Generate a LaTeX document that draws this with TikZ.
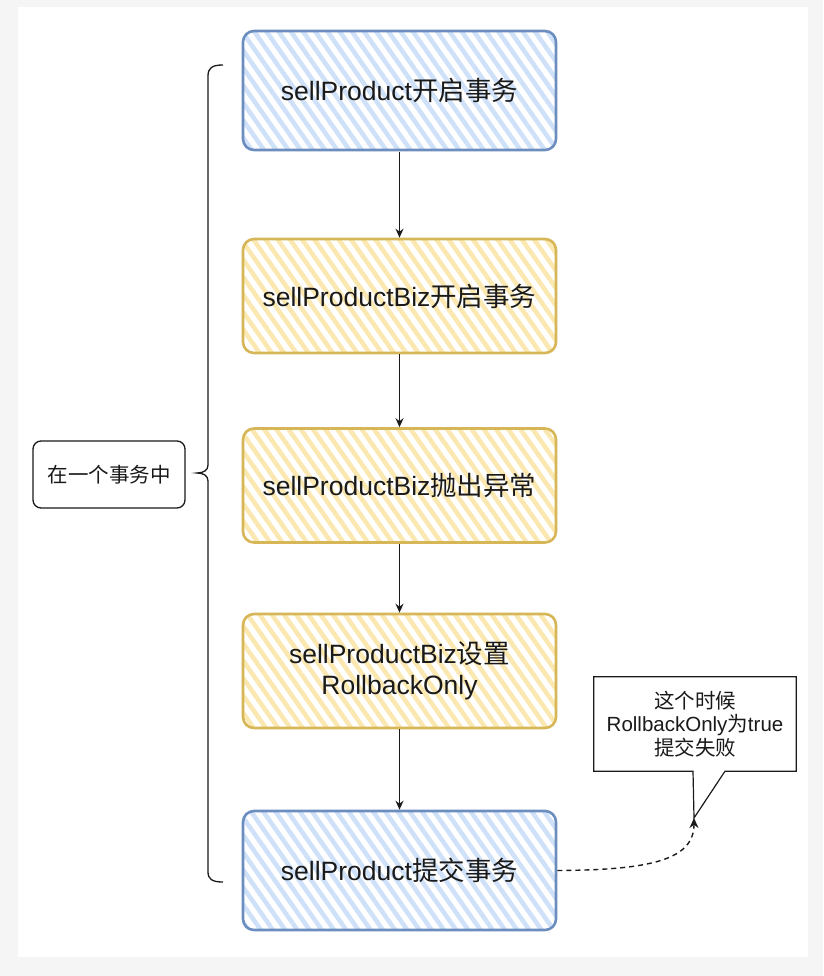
\documentclass[tikz,border=0pt]{standalone}
\usepackage{fontspec}
\setmainfont{Liberation Sans}
\newfontfamily\cjk{Noto Sans CJK SC}
\usepackage{tikz}
\usepackage{xcolor}
\usetikzlibrary{arrows.meta,patterns.meta}
\definecolor{pagegray}{HTML}{F5F5F5}
\definecolor{blueline}{HTML}{6C8EBF}
\definecolor{bluefill}{HTML}{CFE0F9}
\definecolor{yellowline}{HTML}{D6B656}
\definecolor{yellowfill}{HTML}{FBE8B0}
\definecolor{ink}{HTML}{1A1A1A}
\tikzset{
  stepcard/.style={rounded corners=11pt,line width=2.6pt,minimum width=313pt,
                   align=center,text=ink,font=\fontsize{26.5}{31}\selectfont},
  bluecard/.style={stepcard,draw=blueline,minimum height=119pt,
                   pattern={Lines[angle=-55,distance=10pt,line width=4.5pt]},
                   pattern color=bluefill},
  yellowcard/.style={stepcard,draw=yellowline,minimum height=114pt,
                     pattern={Lines[angle=-55,distance=10pt,line width=4.5pt]},
                     pattern color=yellowfill},
  sidecard/.style={draw=ink,line width=1.3pt,rounded corners=8pt,
                   minimum width=152pt,minimum height=67pt,text=ink,
                   font=\fontsize{20.5}{24}\selectfont},
  notecard/.style={minimum width=202pt,minimum height=94pt,align=center,
                   text=ink,font=\fontsize{20.5}{23.5}\selectfont},
  flowarr/.style={-{Stealth[length=9pt,width=8pt]},line width=1.4pt,draw=ink},
  dasharr/.style={-{Stealth[length=10pt,width=9pt]},line width=1.4pt,draw=ink,
                  dash pattern=on 5pt off 4pt},
  braceline/.style={line width=1.3pt,draw=ink}
}
\begin{document}
\begin{tikzpicture}[x=1pt,y=-1pt]
    \fill[pagegray] (0,0) rectangle (823,976);
    \fill[white] (18,7) rectangle (808,957);
    \useasboundingbox (0,0) rectangle (823,976);

    \node[bluecard] (s1) at (399.5,90.5) {sellProduct{\cjk 开启事务}};
    \node[yellowcard] (s2) at (399.5,296) {sellProductBiz{\cjk 开启事务}};
    \node[yellowcard] (s3) at (399.5,485.5) {sellProductBiz{\cjk 抛出异常}};
    \node[yellowcard] (s4) at (399.5,671)
      {sellProductBiz{\cjk 设置}\\RollbackOnly};
    \node[bluecard] (s5) at (399.5,870.5) {sellProduct{\cjk 提交事务}};
    \foreach \a/\b in {s1/s2,s2/s3,s3/s4,s4/s5}
      \draw[flowarr] (\a) -- (\b);

    % one transaction round all five steps
    \node[sidecard] (scope) at (109,474.5) {\cjk 在一个事务中};
    \draw[braceline] (223,65) .. controls (212,65) and (208,68) .. (208,76)
      -- (208,465) .. controls (208,470) and (204,473) .. (197,473)
      .. controls (204,473) and (208,476) .. (208,481)
      -- (208,872) .. controls (208,879) and (212,882) .. (223,882);

    % callout
    \node[notecard] (note) at (695,724)
      {{\cjk 这个时候}\\RollbackOnly{\cjk 为}true\\{\cjk 提交失败}};
    \coordinate (tip) at (694,818);
    \draw[line width=1.2pt,ink] (note.north west) -- (note.north east)
      -- (note.south east) -- ([xshift=30pt]note.south) -- (tip)
      -- ([xshift=-2pt]note.south) -- (note.south west) -- cycle;
    \draw[dasharr] (s5.east) .. controls (650,870) and (694,860) .. (tip);
\end{tikzpicture}
\end{document}
